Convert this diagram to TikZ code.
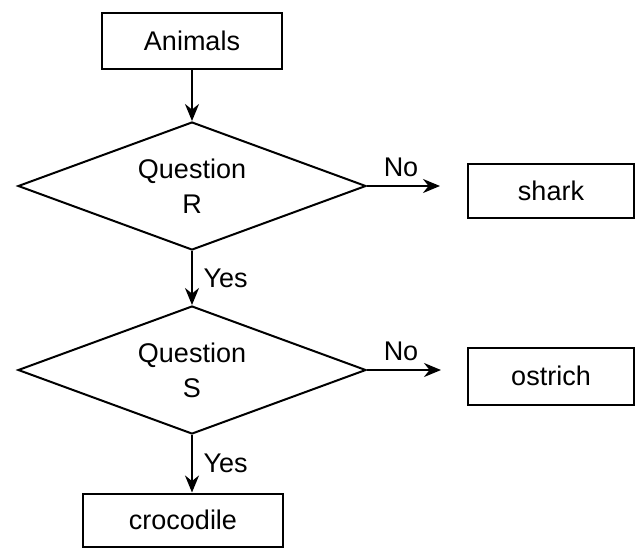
\documentclass[tikz,border=0pt]{standalone}
\usepackage{fontspec}
\setmainfont{Liberation Sans}
\usetikzlibrary{shapes.geometric,arrows.meta}
\begin{document}
\begin{tikzpicture}[x=0.5pt,y=-0.5pt,
        every node/.style={font=\fontsize{13.5}{17.5}\selectfont},
        box/.style={draw,line width=1pt,inner sep=0pt},
        question/.style={draw,diamond,aspect=2.7,line width=1pt,inner sep=0pt,align=center,minimum width=174pt,minimum height=64pt},
        flow/.style={line width=1pt,-{Stealth[length=8.5pt,width=7pt]}}]
        \useasboundingbox (0,0) rectangle (636,547);

        \node[box,minimum width=90pt,minimum height=28pt] (animals) at (192,41) {Animals};
        \node[question] (qR) at (192,186) {Question\\R};
        \node[question] (qS) at (192,370) {Question\\S};
        \node[box,minimum width=83pt,minimum height=27pt] (shark) at (551,191) {shark};
        \node[box,minimum width=83pt,minimum height=28.5pt] (ostrich) at (551,376) {ostrich};
        \node[box,minimum width=100pt,minimum height=26.5pt] (croc) at (183,520) {crocodile};

        \draw[flow] (animals.south) -- (qR.north);
        \draw[flow] (qR.south) -- (qS.north) node[midway,right,xshift=2pt] {Yes};
        \draw[flow] (qS.south) -- (qS.south |- croc.north) node[midway,right,xshift=2pt] {Yes};
        \draw[flow,shorten >=13.5pt] (qR.east) -- (qR.east -| shark.west) node[midway,above,xshift=-8pt,yshift=1pt] {No};
        \draw[flow,shorten >=13pt] (qS.east) -- (qS.east -| ostrich.west) node[midway,above,xshift=-8pt,yshift=1pt] {No};
    \end{tikzpicture}
\end{document}
